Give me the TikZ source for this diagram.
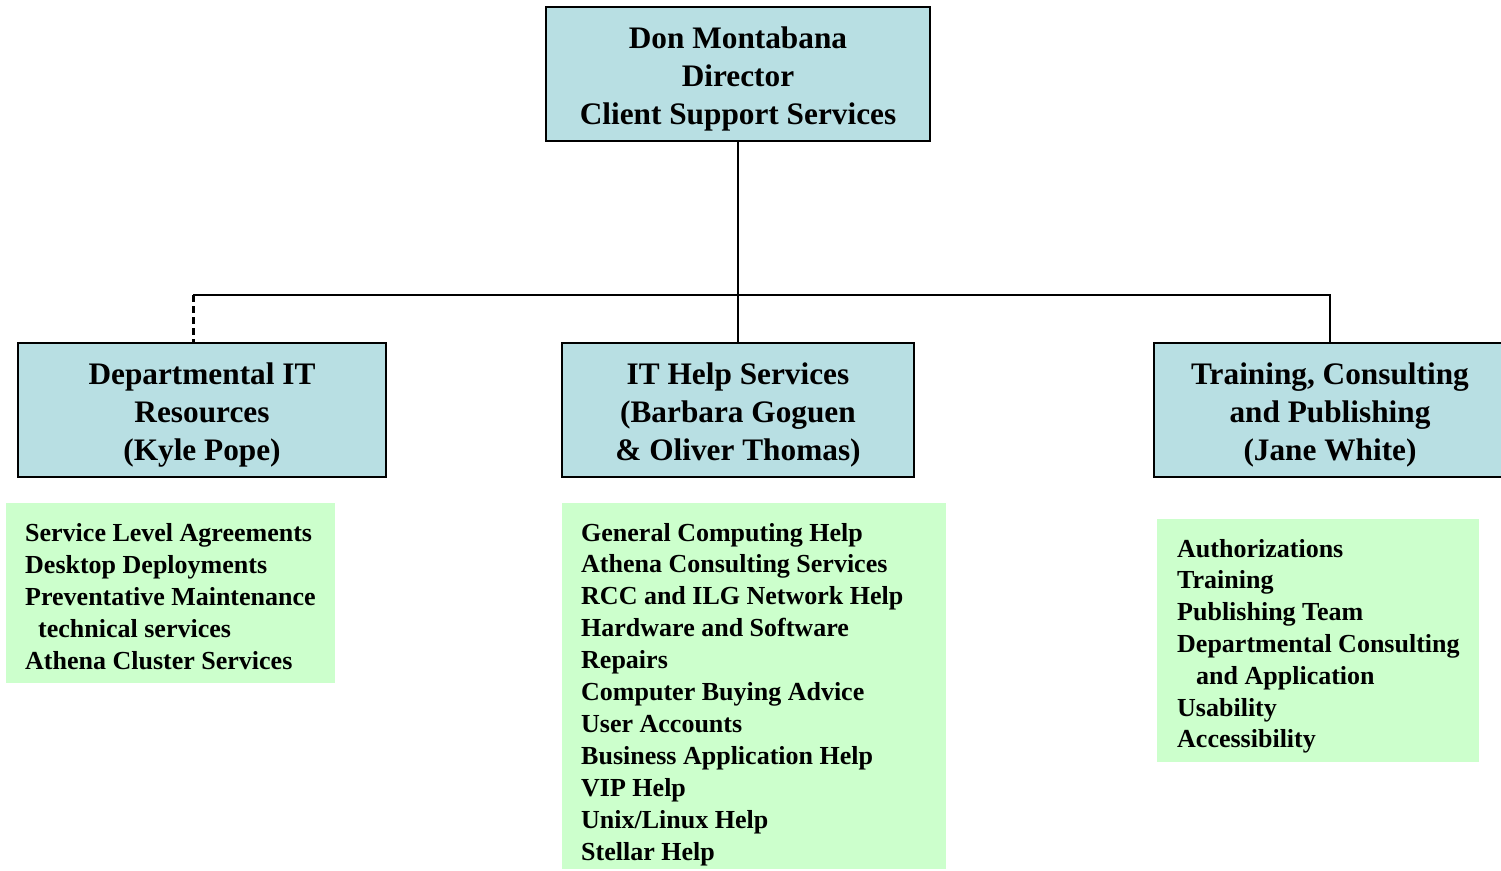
\documentclass[tikz,border=0pt]{standalone}
\usepackage{fontspec}
\setmainfont{Liberation Serif}
\definecolor{boxblue}{RGB}{184,223,227}
\definecolor{listgreen}{RGB}{204,255,204}
\begin{document}
\begin{tikzpicture}[x=1pt,y=-1pt,
  orgbox/.style={draw=black, line width=2pt, fill=boxblue, minimum width=#1, minimum height=134pt, inner sep=0pt},
  boxtext/.style={align=center, inner sep=0pt, yshift=-5pt,
    font=\fontsize{31.3pt}{38pt}\selectfont\bfseries},
  greenbg/.style={fill=listgreen, draw=none},
  item/.style={anchor=base west, inner sep=0pt, font=\fontsize{26pt}{32pt}\selectfont\bfseries},
  conn/.style={line width=2pt}]
\clip (0,0) rectangle (1501,870);
\fill[white] (0,0) rectangle (1501,870);
% boxes
\node[orgbox=384pt] (top) at (738,74) {};
\node[boxtext] (topT) at (top.center) {Don Montabana\\Director\\Client Support Services};
\node[orgbox=368pt] (dept) at (202,410) {};
\node[boxtext] (deptT) at (dept.center) {Departmental IT\\Resources\\(Kyle Pope)};
\node[orgbox=352pt] (help) at (738,410) {};
\node[boxtext] (helpT) at (help.center) {IT Help Services\\(Barbara Goguen\\\& Oliver Thomas)};
\node[orgbox=352pt] (train) at (1330,410) {};
\node[boxtext] (trainT) at (train.center) {Training, Consulting\\and Publishing\\(Jane White)};
% connectors
\coordinate (lc) at (193,295);
\coordinate (rc) at (1330,295);
\coordinate (ltop) at (193,343);
\draw[conn] (top.south) -- (help.north);
\draw[conn] (lc) -- (rc) -- (train.north);
\draw[line width=3pt, dash pattern=on 7pt off 4pt] (lc) -- (ltop);
% green lists
\fill[greenbg] (6,503) rectangle (335,683);
\fill[greenbg] (562,503) rectangle (946,869);
\fill[greenbg] (1157,519) rectangle (1479,762);
\foreach \t [count=\i] in {Service Level Agreements, Desktop Deployments, Preventative Maintenance, {\hspace*{13pt}technical services}, Athena Cluster Services}
  \node[item] (a\i) at (25,{541+(\i-1)*32}) {\t};
\foreach \t [count=\i] in {General Computing Help, Athena Consulting Services, RCC and ILG Network Help, Hardware and Software, Repairs, Computer Buying Advice, User Accounts, Business Application Help, VIP Help, Unix/Linux Help, Stellar Help}
  \node[item] (b\i) at (581,{541+(\i-1)*31.9}) {\t};
\foreach \t [count=\i] in {Authorizations, Training, Publishing Team, Departmental Consulting, {\hspace*{19pt}and Application}, Usability, Accessibility}
  \node[item] (c\i) at (1177,{557+(\i-1)*31.8}) {\t};
\end{tikzpicture}
\end{document}
